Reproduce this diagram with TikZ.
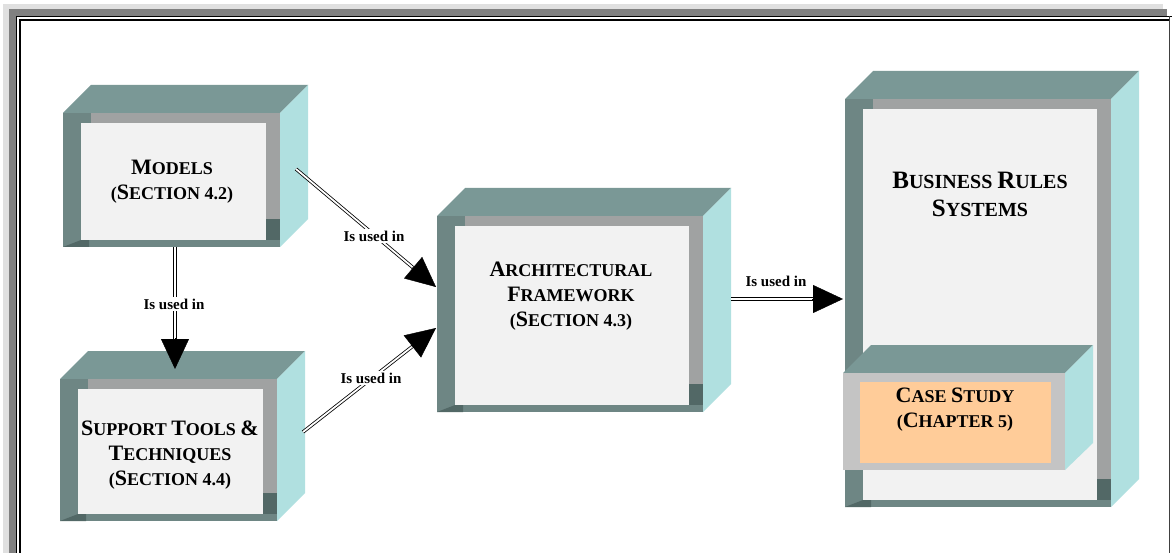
\documentclass[tikz,border=0pt]{standalone}
\usepackage{fontspec}
\setmainfont{Liberation Serif}
\usetikzlibrary{arrows.meta,calc}
\definecolor{topc}{HTML}{7A9896}
\definecolor{sidec}{HTML}{B0E0E0}
\definecolor{panelc}{HTML}{F2F2F2}
\definecolor{frlight}{HTML}{A0A2A2}
\definecolor{frdark}{HTML}{6E8684}
\definecolor{frdeep}{HTML}{526866}
\definecolor{orangep}{HTML}{FFCC99}
\definecolor{grayfr}{HTML}{C4C4C4}
\definecolor{framelt}{HTML}{E0E0E0}
\definecolor{framedk}{HTML}{808080}
\newcommand\Bg[1]{{\fontsize{22}{25}\selectfont #1}}
\newcommand\Bh[1]{{\fontsize{25}{28}\selectfont #1}}
% #1 x1, #2 y1, #3 x2, #4 y2 (front face, pixel coords)
\newcommand\cubebox[4]{%
  \fill[topc] (#1,#2) -- ({#1+28},{#2-28}) -- ({#3+28},{#2-28}) -- (#3,#2) -- cycle;
  \fill[sidec] (#3,#2) -- ({#3+28},{#2-28}) -- ({#3+28},{#4-28}) -- (#3,#4) -- cycle;
  \fill[frlight] (#1,#2) rectangle (#3,#4);
  \fill[frdark] (#1,#2) rectangle ({#1+18},#4);
  \fill[frdark] (#1,#2) rectangle ({#1+28},{#2+10});
  \fill[frdark] (#1,{#4-7}) rectangle (#3,#4);
  \fill[frdeep] (#1,#4) -- ({#1+18},{#4-7}) -- ({#1+26},{#4-7}) -- ({#1+26},#4) -- cycle;
  \fill[frdeep] ({#3-14},{#4-28}) rectangle (#3,{#4-7});
  \fill[panelc] ({#1+18},{#2+10}) rectangle ({#3-14},{#4-7});
}
\tikzset{
  boxtext/.style={align=center, inner sep=0pt, font=\bfseries\fontsize{18}{25}\selectfont},
  bigtext/.style={align=center, inner sep=0pt, font=\bfseries\fontsize{20}{28}\selectfont},
  lbl/.style={font=\bfseries\fontsize{15}{15}\selectfont, inner sep=1.5pt},
  lblw/.style={lbl, fill=white},
  dbl/.style={draw=black, line width=0.8pt, double=white, double distance=1.8pt},
  head/.style={-{Triangle[length=30pt,width=28pt]}, line width=0.4pt}
}
\begin{document}
\begin{tikzpicture}[x=1pt,y=-1pt]
\useasboundingbox (0,0) rectangle (1172,553);
\fill[white] (0,0) rectangle (1172,553);
% outer frame
\fill[framelt] (3,4) rectangle (1163,553);
\fill[framedk] (9,9) rectangle (1167,553);
\fill[white] (16,16) rectangle (1170,553);
\draw[black, line width=1pt] (16.5,553) -- (16.5,16.5) -- (1172,16.5);
\draw[black, line width=1.5pt] (20,553) -- (20,20) -- (1169,20);
\draw[black!75, line width=1pt] (1169.5,16.5) -- (1169.5,553);

% boxes
\cubebox{63}{113}{280}{247}
\cubebox{60}{379}{277}{521}
\cubebox{437}{216}{703}{412}
\cubebox{845}{99}{1111}{507}
% case study box
\fill[topc] (843,373) -- (871,345) -- (1093,345) -- (1065,373) -- cycle;
\fill[sidec] (1065,373) -- (1093,345) -- (1093,443) -- (1065,470) -- cycle;
\fill[grayfr] (843,373) rectangle (1065,470);
\fill[orangep] (860,382) rectangle (1051,463);

% texts
\node[boxtext] (models) at (172,182) {\Bg{M}ODELS\\(\Bg{S}ECTION 4.2)};
\node[boxtext] (support) at (170,455) {\Bg{S}UPPORT \Bg{T}OOLS \Bg{\&}\\\Bg{T}ECHNIQUES\\(\Bg{S}ECTION 4.4)};
\node[boxtext] (arch) at (571,296) {\Bg{A}RCHITECTURAL\\\Bg{F}RAMEWORK\\(\Bg{S}ECTION 4.3)};
\node[bigtext] (brs) at (980,194) {\Bh{B}USINESS \Bh{R}ULES\\\Bh{S}YSTEMS};
\node[boxtext] (case) at (955,410) {\Bg{C}ASE \Bg{S}TUDY\\(\Bg{C}HAPTER 5)};

% connector end points
\coordinate (m-r) at (296,169);
\coordinate (m-b) at (175,247);
\coordinate (s-r) at (303,432);
\coordinate (a-l1) at (436,287);
\coordinate (a-l2) at (436,328);
\coordinate (a-r) at (731,299);
\coordinate (b-l) at (843,299);
\coordinate (s-t) at (175,369);

% connectors
\draw[dbl] (m-r) -- ($(a-l1)!22pt!(m-r)$);
\draw[head] ($(a-l1)!31pt!(m-r)$) -- (a-l1);
\draw[dbl] (s-r) -- ($(a-l2)!22pt!(s-r)$);
\draw[head] ($(a-l2)!31pt!(s-r)$) -- (a-l2);
\draw[dbl] (m-b) -- ($(s-t)!22pt!(m-b)$);
\draw[head] ($(s-t)!31pt!(m-b)$) -- (s-t);
\draw[dbl] (a-r) -- ($(b-l)!22pt!(a-r)$);
\draw[head] ($(b-l)!31pt!(a-r)$) -- (b-l);

% labels
\node[lblw] (l1) at (374,236) {Is used in};
\node[lblw] (l2) at (371,378) {Is used in};
\node[lblw] (l3) at (174,304) {Is used in};
\node[lbl] (l4) at (776,281) {Is used in};
\end{tikzpicture}
\end{document}
